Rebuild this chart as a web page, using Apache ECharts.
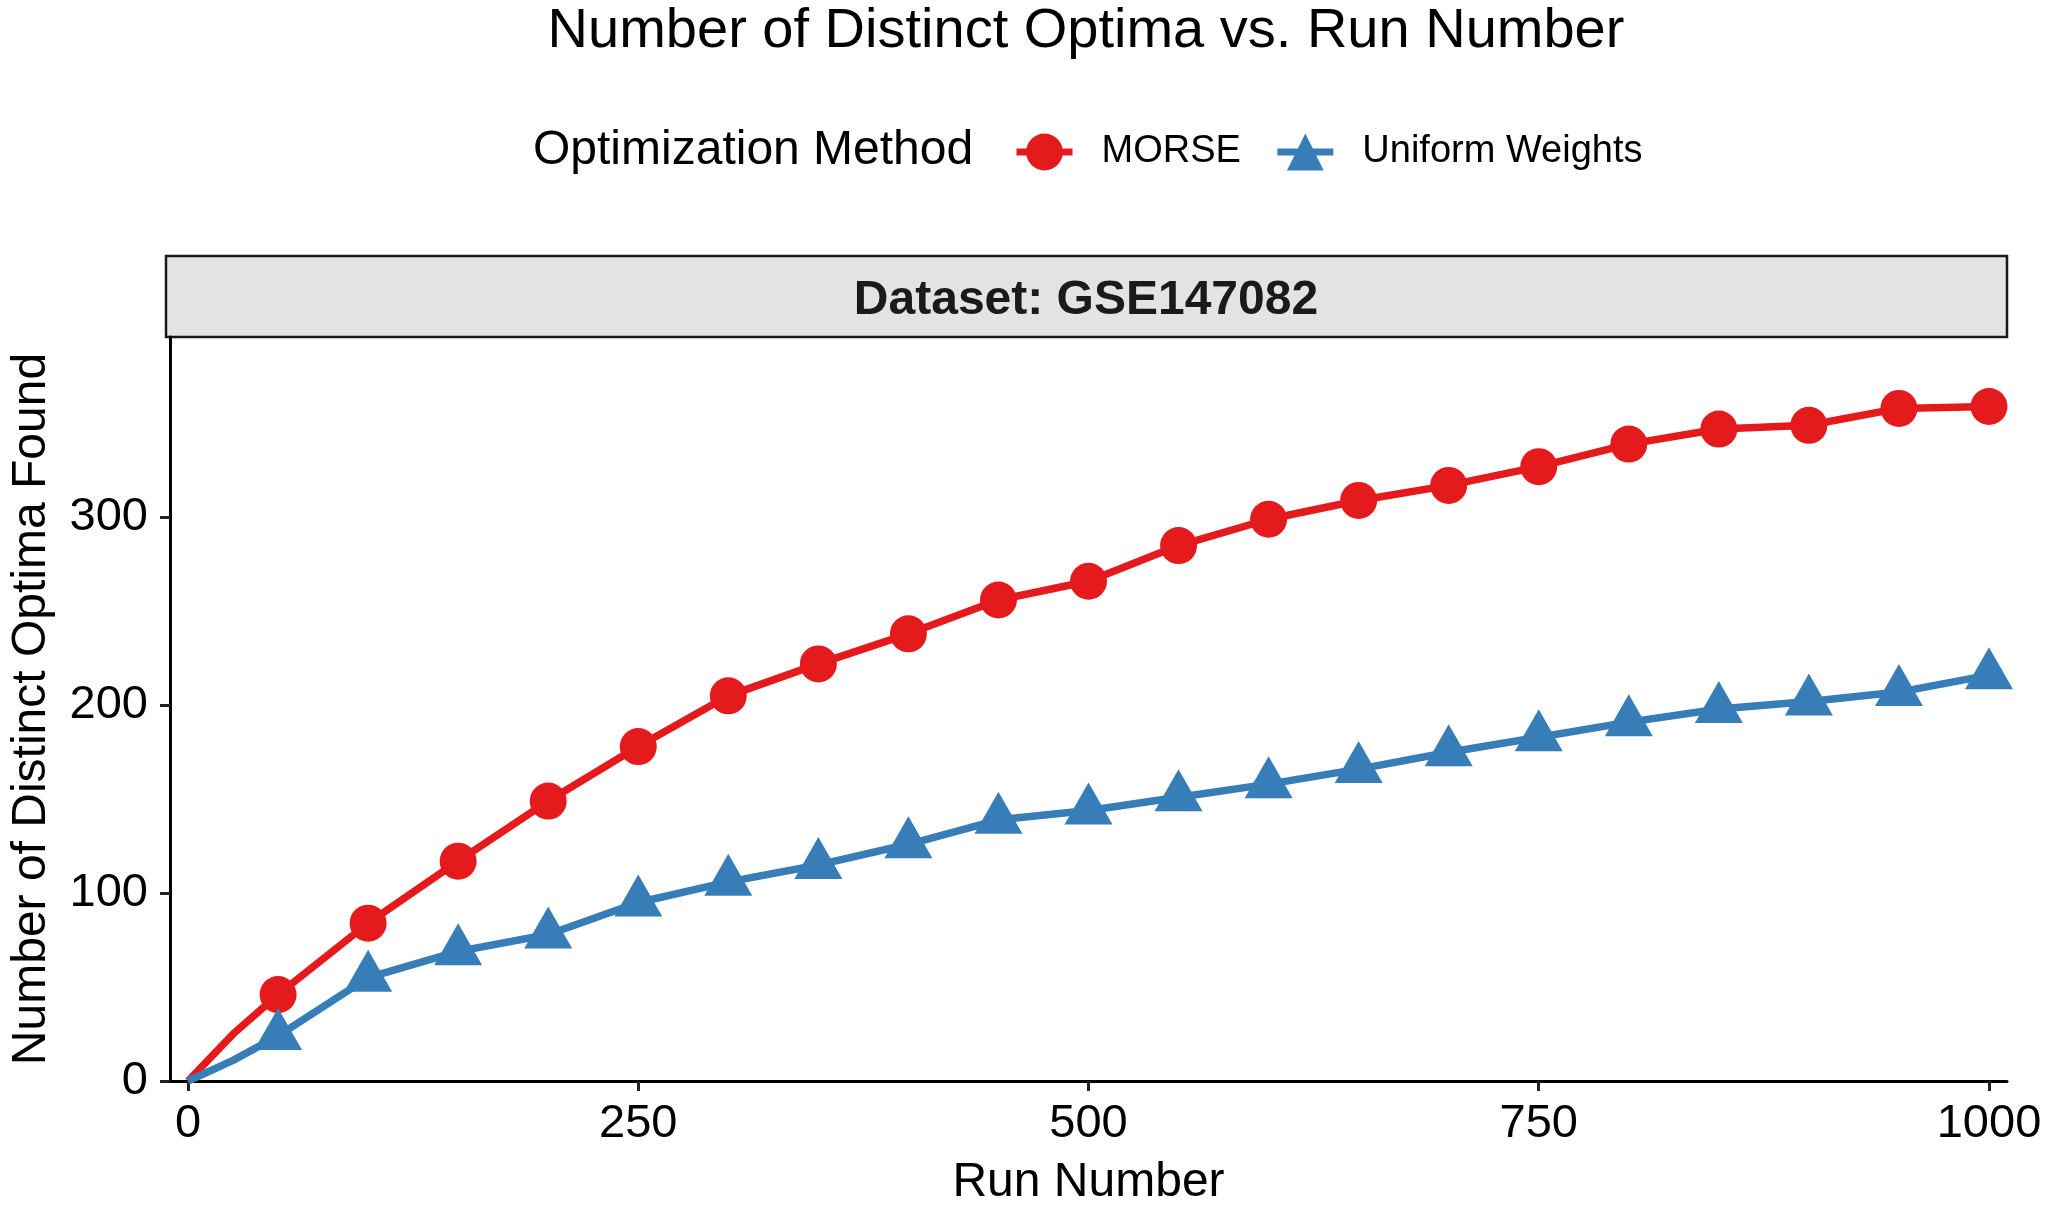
<!DOCTYPE html>
<html>
<head>
<meta charset="utf-8">
<script src="https://cdn.jsdelivr.net/npm/echarts@6/dist/echarts.min.js"></script>
<style>
  html, body { margin: 0; padding: 0; background: #fff; }
  #chart { width: 2048px; height: 1212px; }
</style>
</head>
<body>
<div id="chart"></div>
<script>
// values
var runs = [0, 25, 50, 100, 150, 200, 250, 300, 350, 400, 450, 500, 550, 600, 650, 700, 750, 800, 850, 900, 950, 1000];
var morse = [0, 25, 46, 84, 117, 149, 178, 205, 222, 238, 256, 266, 285, 299, 309, 317, 327, 339, 347, 349, 358, 359];
var uniform = [0, 11, 24, 55, 69, 78, 95, 106, 115, 126, 139, 144, 151, 158, 166, 175, 183, 191, 198, 202, 207, 216];
var xTicks = [0, 250, 500, 750, 1000];
var yTicks = [0, 100, 200, 300];

var font = '"Liberation Sans", Arial, sans-serif';

// markers only on every 50th run
function toData(vals) {
  return runs.map(function (r, i) {
    var d = {value: [r, vals[i]]};
    if (r === 0 || r % 50 !== 0) d.symbol = 'none';
    return d;
  });
}

var chart = echarts.init(document.getElementById('chart'));
var option = {
  backgroundColor: '#fff',
  animation: false,
  textStyle: {fontFamily: font},
  grid: {left: 166, right: 41, top: 337, bottom: 122},
  legend: {
    left: 1008, top: 128,
    itemWidth: 56, itemHeight: 46, itemGap: 33,
    lineStyle: {width: 7},
    textStyle: {fontSize: 38, color: '#000', fontFamily: font, padding: [0, 0, 0, 24]},
    data: ['MORSE', 'Uniform Weights']
  },
  xAxis: {
    type: 'value', min: -10, max: 1010,
    name: 'Run Number', nameLocation: 'middle', nameGap: 78,
    nameTextStyle: {fontSize: 48, color: '#000', fontFamily: font},
    axisLine: {show: true, onZero: false, lineStyle: {color: '#000', width: 3}},
    axisTick: {show: true, length: 10, customValues: xTicks, lineStyle: {color: '#222', width: 3}},
    axisLabel: {customValues: xTicks, fontSize: 47, color: '#000', margin: 20, fontFamily: font,
      formatter: function (v) { return String(v); }},
    splitLine: {show: false}
  },
  yAxis: {
    type: 'value', min: 0, max: 396,
    name: 'Number of Distinct Optima Found', nameLocation: 'middle', nameGap: 114,
    nameTextStyle: {fontSize: 48, color: '#000', fontFamily: font},
    axisLine: {show: true, onZero: false, lineStyle: {color: '#000', width: 3}},
    axisTick: {show: true, length: 10, customValues: yTicks, lineStyle: {color: '#222', width: 3}},
    axisLabel: {customValues: yTicks, fontSize: 47, color: '#000', margin: 22, fontFamily: font},
    splitLine: {show: false}
  },
  graphic: [
    {type: 'text', x: 1086, y: 32, style: {text: 'Number of Distinct Optima vs. Run Number', fontSize: 56, fontFamily: font, fill: '#000', align: 'center', verticalAlign: 'middle'}},
    {type: 'text', x: 533, y: 151, style: {text: 'Optimization Method', fontSize: 48, fontFamily: font, fill: '#000', align: 'left', verticalAlign: 'middle'}},
    {type: 'rect', shape: {x: 166, y: 256, width: 1841, height: 81}, style: {fill: '#E3E3E3', stroke: '#1a1a1a', lineWidth: 2.5}},
    {type: 'text', x: 1086, y: 301, style: {text: 'Dataset: GSE147082', fontSize: 48, fontWeight: 'bold', fontFamily: font, fill: '#1a1a1a', align: 'center', verticalAlign: 'middle'}}
  ],
  series: [
    {
      name: 'MORSE', type: 'line', data: toData(morse),
      symbol: 'circle', symbolSize: 37,
      itemStyle: {color: '#E41A1C'},
      lineStyle: {color: '#E41A1C', width: 7.5}
    },
    {
      name: 'Uniform Weights', type: 'line', data: toData(uniform),
      symbol: 'triangle', symbolSize: [48, 42], symbolOffset: [0, -7],
      itemStyle: {color: '#377EB8'},
      lineStyle: {color: '#377EB8', width: 7.5}
    }
  ]
};
chart.setOption(option);
</script>
</body>
</html>
